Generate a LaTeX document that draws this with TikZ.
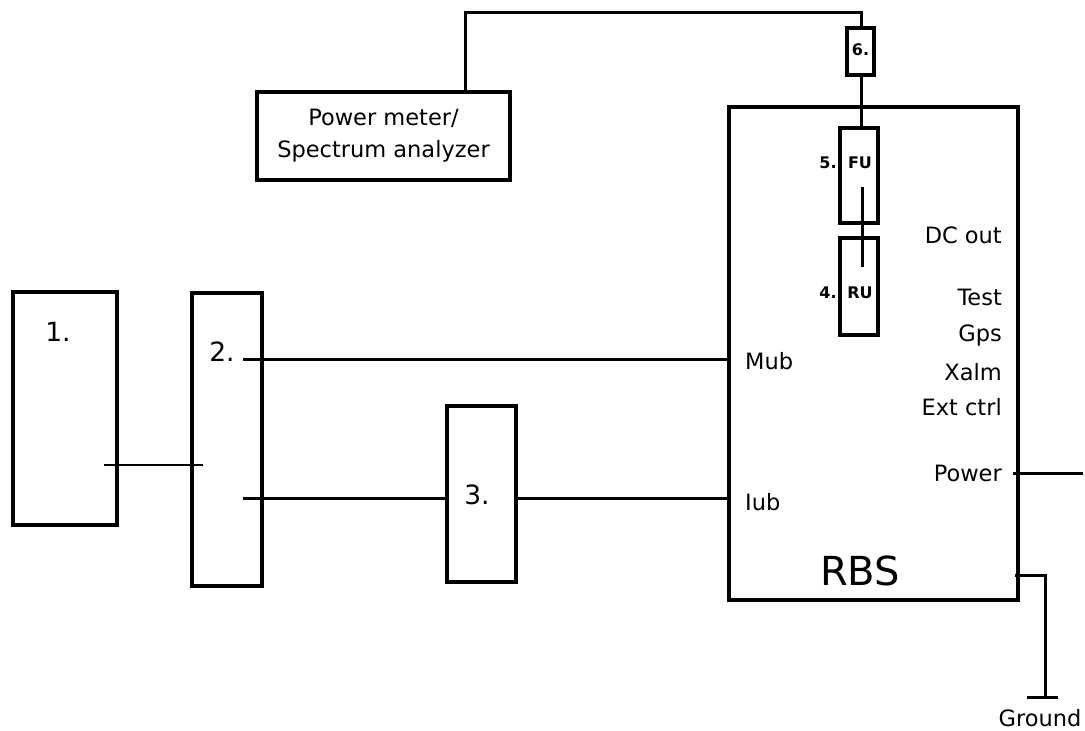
\documentclass[tikz,border=0pt]{standalone}
\usepackage{fontspec}
\setmainfont{DejaVu Sans}
\begin{document}
\begin{tikzpicture}[x=1pt,y=-1pt,
  box/.style={draw,line width=3.2pt,rectangle,inner sep=0pt,outer sep=0pt},
  wire/.style={line width=3pt},
  thinwire/.style={line width=2.4pt},
  lbl/.style={inner sep=0pt,font=\fontsize{22.5}{26}\selectfont},
  num/.style={inner sep=0pt,font=\fontsize{26.5}{28}\selectfont},
  small/.style={inner sep=0pt,font=\fontsize{16}{18}\selectfont\bfseries}]
\useasboundingbox (0,0) rectangle (1085,731);
% boxes
\node[box,minimum width=104,minimum height=233] (b1) at (65,408.5) {};
\node[box,minimum width=70,minimum height=293] (b2) at (227,439.5) {};
\node[box,minimum width=69,minimum height=176] (b3) at (481.5,494) {};
\node[box,minimum width=289,minimum height=493] (rbs) at (873.5,353.5) {};
\node[box,minimum width=253,minimum height=88,align=center,font=\fontsize{22.5}{32}\selectfont] (pm) at (383.5,136) {Power meter/\\Spectrum analyzer};
\node[box,minimum width=27,minimum height=47] (b6) at (860.5,51.5) {};
\node[box,minimum width=38,minimum height=95] (fu) at (859,175.5) {};
\node[box,minimum width=38,minimum height=97] (ru) at (859,286.5) {};
% labels
\node[num] (l1) at (58,332) {1.};
\node[num] (l2) at (222,352) {2.};
\node[num] (l3) at (477,495) {3.};
\node[small] (l6) at (860.5,50) {6.};
\node[small] (l5) at (828,163) {5.};
\node[small] (lfu) at (860,163) {FU};
\node[small] (l4) at (828,293) {4.};
\node[small] (lru) at (860,293) {RU};
\node[lbl,anchor=west] (mub) at (745,361) {Mub};
\node[lbl,anchor=west] (iub) at (745,502) {Iub};
\node[lbl,anchor=east] (dc) at (1002,235) {DC out};
\node[lbl,anchor=east] (test) at (1002,297) {Test};
\node[lbl,anchor=east] (gps) at (1002,335) {Gps};
\node[lbl,anchor=east] (xalm) at (1002,372) {Xalm};
\node[lbl,anchor=east] (ext) at (1002,407) {Ext ctrl};
\node[lbl,anchor=east] (pw) at (1002,473) {Power};
\node[inner sep=0pt,font=\fontsize{40}{42}\selectfont] (rbsl) at (860,571) {RBS};
\node[lbl] (gnd) at (1040,718) {Ground};
% coordinates
\coordinate (pmtap) at (465,92);
\coordinate (topr) at (861,12);
\coordinate (fuin) at (862,187);
\coordinate (ruin) at (862,267);
\coordinate (mubs) at (243,359);
\coordinate (iubs) at (243,498);
\coordinate (c1) at (104,465);
\coordinate (c2) at (203,465);
\coordinate (pwin) at (1013,473);
\coordinate (pwout) at (1083,473);
\coordinate (gin) at (1015,575);
\coordinate (gc) at (1045,575);
\coordinate (gb) at (1045,697);
\coordinate (gt1) at (1027,697);
\coordinate (gt2) at (1058,697);
% wires
\draw[wire] (pmtap) -- (pmtap |- topr) -- (topr) -- (b6.north -| topr);
\draw[wire] (b6.south -| topr) -- (fu.north -| topr);
\draw[wire] (fuin) -- (ruin);
\draw[wire] (mubs) -- (rbs.west |- mubs);
\draw[wire] (iubs) -- (b3.west |- iubs);
\draw[wire] (b3.east |- iubs) -- (rbs.west |- iubs);
\draw[thinwire] (c1) -- (c2);
\draw[wire] (pwin) -- (pwout);
\draw[wire] (gin) -- (gc) -- (gb);
\draw[wire] (gt1) -- (gt2);
\end{tikzpicture}
\end{document}
